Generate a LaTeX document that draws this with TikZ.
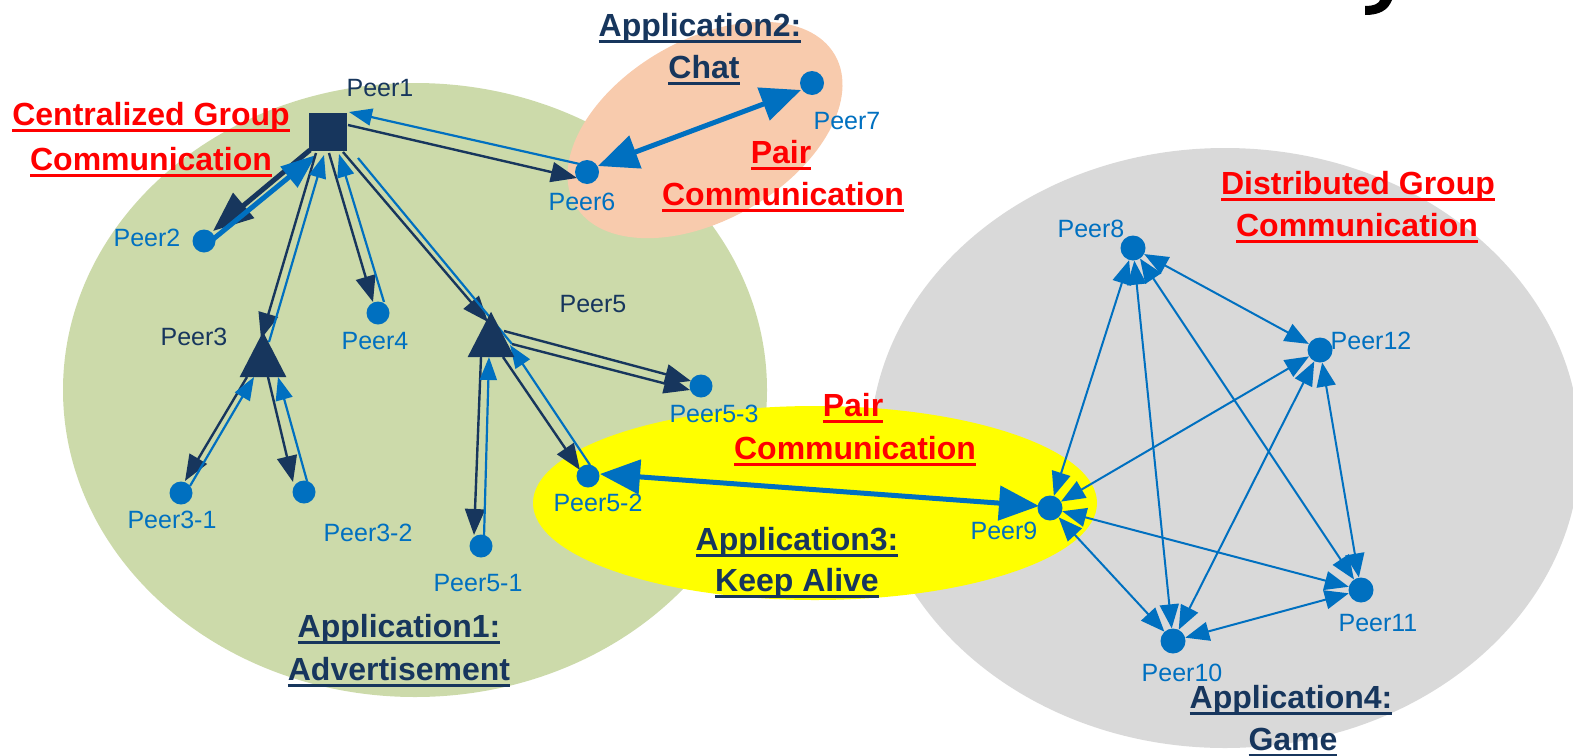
\documentclass[tikz,border=0pt]{standalone}
\usepackage{fontspec}
\setmainfont{Liberation Sans}
\usetikzlibrary{arrows.meta,calc,shapes.geometric}
\definecolor{navy}{RGB}{23,54,93}
\definecolor{pblue}{RGB}{0,112,192}
\definecolor{pgreen}{RGB}{204,218,170}
\definecolor{ppeach}{RGB}{248,203,173}
\definecolor{pgrey}{RGB}{217,217,217}
\definecolor{pyellow}{RGB}{255,255,0}
\definecolor{pred}{RGB}{255,0,0}
\pgfdeclarelayer{bg}
\pgfdeclarelayer{edges}
\pgfsetlayers{bg,edges,main}
\newcommand{\ulx}[1]{\setbox0=\hbox{#1}\rlap{\rule[-6.5pt]{\wd0}{3pt}}\box0}
\tikzset{
  dot/.style={circle, fill=pblue, inner sep=0pt, minimum size=23pt},
  sq/.style={rectangle, fill=navy, inner sep=0pt, minimum size=38pt},
  tri/.style={regular polygon, regular polygon sides=3, fill=navy, inner sep=0pt, minimum size=54pt, yscale=1.12, transform shape},
  plabel/.style={font=\fontsize{25}{30}\selectfont, text=pblue, inner sep=0pt},
  nlabel/.style={plabel, text=navy},
  ttl/.style={font=\bfseries\fontsize{32}{38}\selectfont, inner sep=0pt, anchor=base},
  redttl/.style={ttl, text=pred},
  navttl/.style={ttl, text=navy},
  nav/.style={draw=navy, line width=2.4pt, -{Triangle[length=26pt,width=20pt]}},
  blu/.style={draw=pblue, line width=2.2pt, -{Triangle[length=23pt,width=17pt]}},
  bluline/.style={draw=pblue, line width=2.2pt},
  dbl/.style={draw=pblue, line width=2pt, {Triangle[length=24pt,width=19pt]}-{Triangle[length=24pt,width=19pt]}},
  navthick/.style={draw=navy, line width=5pt, -{Triangle[length=40pt,width=32pt]}},
  bluthick/.style={draw=pblue, line width=5pt, -{Triangle[length=35pt,width=26pt]}},
  dblthick/.style={draw=pblue, line width=5pt, {Triangle[length=40pt,width=34pt]}-{Triangle[length=40pt,width=34pt]}},
}
\begin{document}
\begin{tikzpicture}[x=1pt,y=-1pt]
\useasboundingbox (0,0) rectangle (1573,755);
% regions
\begin{pgfonlayer}{bg}
\fill[pgreen] (415,390) ellipse [x radius=352pt, y radius=307pt];
\fill[pgrey] (1225,448) ellipse [x radius=355pt, y radius=300pt];
\fill[ppeach, rotate around={30:(705,130)}] (705,130) ellipse [x radius=150pt, y radius=90pt];
\fill[pyellow] (815,503) ellipse [x radius=282pt, y radius=97pt];
\end{pgfonlayer}
% cut-off title glyph
\fill[black] (1365,15) -- (1365,6) .. controls (1375,6) and (1379,3) .. (1380,0) -- (1392,0) .. controls (1388,10) and (1380,15) .. (1365,15) -- cycle;
% peers
\node[sq] (p1) at (328,132) {};
\node[dot] (p2) at (204,241) {};
\node[tri] (p3) at (263,362) {};
\node[dot] (p4) at (378,313) {};
\node[tri] (p5) at (491,342) {};
\node[dot,minimum size=24pt] (p6) at (587,172) {};
\node[dot,minimum size=24pt] (p7) at (812,83) {};
\node[dot] (p31) at (181,493) {};
\node[dot] (p32) at (304,492) {};
\node[dot] (p51) at (481,546) {};
\node[dot] (p52) at (588,476) {};
\node[dot] (p53) at (701,386) {};
\node[dot,minimum size=25pt] (p8) at (1133,248) {};
\node[dot,minimum size=25pt] (p9) at (1050,508) {};
\node[dot,minimum size=25pt] (p10) at (1173,641) {};
\node[dot,minimum size=25pt] (p11) at (1361,590) {};
\node[dot,minimum size=25pt] (p12) at (1320,350) {};
% peer labels
\node[nlabel] (l1) at (380,88) {Peer1};
\node[plabel] (l2) at (147,238) {Peer2};
\node[nlabel] (l3) at (194,337) {Peer3};
\node[plabel] (l4) at (375,341) {Peer4};
\node[nlabel] (l5) at (593,304) {Peer5};
\node[plabel] (l6) at (582,202) {Peer6};
\node[plabel] (l7) at (847,121) {Peer7};
\node[plabel] (l31) at (172,520) {Peer3-1};
\node[plabel] (l32) at (368,533) {Peer3-2};
\node[plabel] (l51) at (478,583) {Peer5-1};
\node[plabel] (l52) at (598,503) {Peer5-2};
\node[plabel] (l53) at (714,414) {Peer5-3};
\node[plabel] (l8) at (1091,229) {Peer8};
\node[plabel] (l9) at (1004,531) {Peer9};
\node[plabel] (l10) at (1182,673) {Peer10};
\node[plabel] (l11) at (1378,623) {Peer11};
\node[plabel] (l12) at (1371,341) {Peer12};
% titles
\node[navttl] (a2a) at (700,36) {\ulx{Application2:}};
\node[navttl] (a2b) at (704,78) {\ulx{Chat}};
\node[redttl] (pc1a) at (781,163) {\ulx{Pair}};
\node[redttl] (pc1b) at (783,205) {\ulx{Communication}};
\node[redttl] (cga) at (151,125) {\ulx{Centralized Group}};
\node[redttl] (cgb) at (151,170) {\ulx{Communication}};
\node[redttl] (dga) at (1358,194) {\ulx{Distributed Group}};
\node[redttl] (dgb) at (1357,236) {\ulx{Communication}};
\node[redttl] (pc2a) at (853,416) {\ulx{Pair}};
\node[redttl] (pc2b) at (855,459) {\ulx{Communication}};
\node[navttl] (a3a) at (797,550) {\ulx{Application3:}};
\node[navttl] (a3b) at (797,591) {\ulx{Keep Alive}};
\node[navttl] (a1a) at (399,637) {\ulx{Application1:}};
\node[navttl] (a1b) at (399,680) {\ulx{Advertisement}};
\node[navttl] (a4a) at (1291,708) {\ulx{Application4:}};
\node[navttl] (a4b) at (1293,750) {\ulx{Game}};
% connectors
\begin{pgfonlayer}{edges}
\draw[navthick] ([shift={(-18,18)}]p1.center) -- ([shift={(9,-10)}]p2.center);
\draw[bluthick] ([shift={(2,4)}]p2.center) -- ([shift={(-12,23)}]p1.center);
\draw[nav] ([shift={(-12,21)}]p1.center) -- ([shift={(-2,-23)}]p3.center);
\draw[blu] ([shift={(6,-20)}]p3.center) -- ([shift={(-4,23)}]p1.center);
\draw[nav] ([shift={(1,21)}]p1.center) -- ([shift={(-5,-11)}]p4.center);
\draw[blu] ([shift={(6,-11)}]p4.center) -- ([shift={(11,22)}]p1.center);
\draw[nav] ([shift={(15,20)}]p1.center) -- ([shift={(-3,-20)}]p5.center);
\draw[bluline] ([shift={(21,2)}]p5.center) -- ([shift={(30,26)}]p1.center);
\draw[nav] ([shift={(20,-7)}]p1.center) -- ([shift={(-10,6)}]p6.center);
\draw[blu] ([shift={(-3,-7)}]p6.center) -- ([shift={(21,-20)}]p1.center);
\draw[nav] ([shift={(-16,15)}]p3.center) -- ([shift={(4,-12)}]p31.center);
\draw[blu] ([shift={(9,-7)}]p31.center) -- ([shift={(-9,15)}]p3.center);
\draw[nav] ([shift={(5,15)}]p3.center) -- ([shift={(-11,-10)}]p32.center);
\draw[blu] ([shift={(3,-11)}]p32.center) -- ([shift={(15,15)}]p3.center);
\draw[nav] ([shift={(-10,15)}]p5.center) -- ([shift={(-7,-11)}]p51.center);
\draw[blu] ([shift={(3,-9)}]p51.center) -- ([shift={(-2,15)}]p5.center);
\draw[nav] ([shift={(12,15)}]p5.center) -- ([shift={(-8,-6)}]p52.center);
\draw[blu] ([shift={(2,-11)}]p52.center) -- ([shift={(19,3)}]p5.center);
\draw[nav] ([shift={(13,-11)}]p5.center) -- ([shift={(-10,-5)}]p53.center);
\draw[nav] ([shift={(21,2)}]p5.center) -- ([shift={(-11,4)}]p53.center);
\draw[dblthick] ([shift={(11,-6)}]p6.center) -- ([shift={(-11,7)}]p7.center);
\draw[dblthick] ([shift={(12,-2)}]p52.center) -- ([shift={(-11,-2)}]p9.center);
\draw[dbl] (p8) -- (p9);
\draw[dbl] (p8) -- (p10);
\draw[dbl] (p8) -- (p11);
\draw[dbl] (p8) -- (p12);
\draw[dbl] (p9) -- (p12);
\draw[dbl] (p9) -- (p11);
\draw[dbl] (p9) -- (p10);
\draw[dbl] (p10) -- (p12);
\draw[dbl] (p10) -- (p11);
\draw[dbl] (p11) -- (p12);
\end{pgfonlayer}
\end{tikzpicture}
\end{document}
